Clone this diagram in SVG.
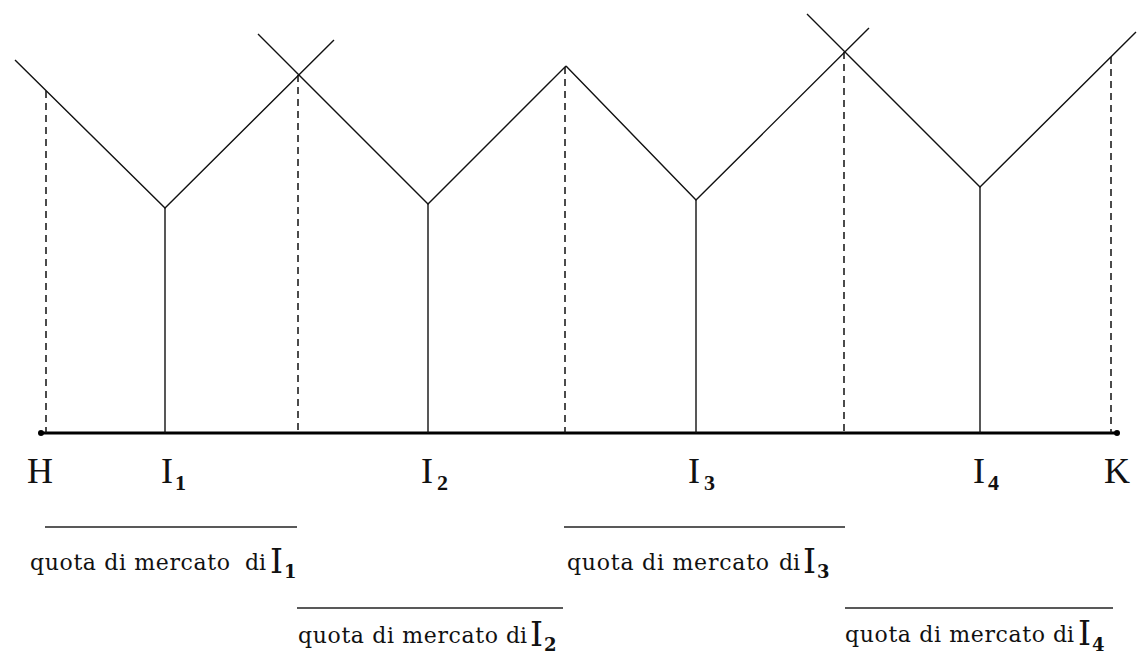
<svg xmlns="http://www.w3.org/2000/svg" width="1137" height="664" viewBox="0 0 1137 664">
<style>
.ln{stroke:#111;stroke-width:1.4;fill:none}
.ds{stroke:#111;stroke-width:1.5;stroke-dasharray:7 5;fill:none}
.ax{stroke:#000;stroke-width:3.2;fill:none}
.bar{stroke:#222;stroke-width:1.6;fill:none}
.big{font-family:"Liberation Serif",serif;font-size:36px;fill:#111}
.sub{font-family:"Liberation Serif",serif;font-size:22px;font-weight:bold;fill:#111}
.q{font-family:"DejaVu Serif","Liberation Serif",serif;font-size:22px;fill:#111}
.bI{font-family:"DejaVu Serif","Liberation Serif",serif;font-size:33px;fill:#111}
.bs{font-family:"DejaVu Serif","Liberation Serif",serif;font-size:18px;font-weight:bold;fill:#111}
</style>
<rect width="1137" height="664" fill="#fff"/>
<g id="connectors">
<line class="ax" x1="41" y1="433" x2="1117" y2="433"/>
<circle cx="41" cy="433" r="3" fill="#000"/>
<circle cx="1117" cy="433" r="3" fill="#000"/>
<line class="ds" x1="46" y1="91" x2="46" y2="433"/>
<line class="ds" x1="298" y1="75" x2="298" y2="433"/>
<line class="ds" x1="565" y1="67" x2="565" y2="433"/>
<line class="ds" x1="844" y1="52" x2="844" y2="433"/>
<line class="ds" x1="1111" y1="57" x2="1111" y2="433"/>
</g>
<g id="V1">
<polyline class="ln" points="15,60 165,208 334,40"/>
<line class="ln" x1="165" y1="208" x2="165" y2="433"/>
</g>
<g id="V2">
<polyline class="ln" points="258,34 428,204 566,66"/>
<line class="ln" x1="428" y1="204" x2="428" y2="433"/>
</g>
<g id="V3">
<polyline class="ln" points="566,66 696,200 869,28"/>
<line class="ln" x1="696" y1="200" x2="696" y2="433"/>
</g>
<g id="V4">
<polyline class="ln" points="807,14 980,187 1136,32"/>
<line class="ln" x1="980" y1="187" x2="980" y2="433"/>
</g>
<g id="labels">
<text class="big" x="27" y="483">H</text>
<text x="161" y="483"><tspan class="big">I</tspan><tspan class="sub" x="175" y="490">1</tspan></text>
<text x="421" y="483"><tspan class="big">I</tspan><tspan class="sub" x="437" y="490">2</tspan></text>
<text x="688" y="483"><tspan class="big">I</tspan><tspan class="sub" x="704" y="490">3</tspan></text>
<text x="973" y="483"><tspan class="big">I</tspan><tspan class="sub" x="988" y="490">4</tspan></text>
<text class="big" x="1104" y="483">K</text>
</g>
<g id="share1">
<line class="bar" x1="45" y1="527" x2="297" y2="527"/>
<text y="570"><tspan class="q" x="30" textLength="200">quota di mercato</tspan><tspan class="q" x="245">di</tspan><tspan class="bI" x="270" y="573">I</tspan><tspan class="bs" dx="1" y="578">1</tspan></text>
</g>
<g id="share2">
<line class="bar" x1="297" y1="608" x2="563" y2="608"/>
<text y="643"><tspan class="q" x="298" textLength="200">quota di mercato</tspan><tspan class="q" x="506">di</tspan><tspan class="bI" x="530" y="646">I</tspan><tspan class="bs" dx="1" y="651">2</tspan></text>
</g>
<g id="share3">
<line class="bar" x1="564" y1="527" x2="845" y2="527"/>
<text y="570"><tspan class="q" x="567" textLength="202">quota di mercato</tspan><tspan class="q" x="779">di</tspan><tspan class="bI" x="803" y="573">I</tspan><tspan class="bs" dx="1" y="578">3</tspan></text>
</g>
<g id="share4">
<line class="bar" x1="845" y1="608" x2="1113" y2="608"/>
<text y="642"><tspan class="q" x="845" textLength="200">quota di mercato</tspan><tspan class="q" x="1053">di</tspan><tspan class="bI" x="1078" y="645">I</tspan><tspan class="bs" dx="1" y="651">4</tspan></text>
</g>
</svg>
